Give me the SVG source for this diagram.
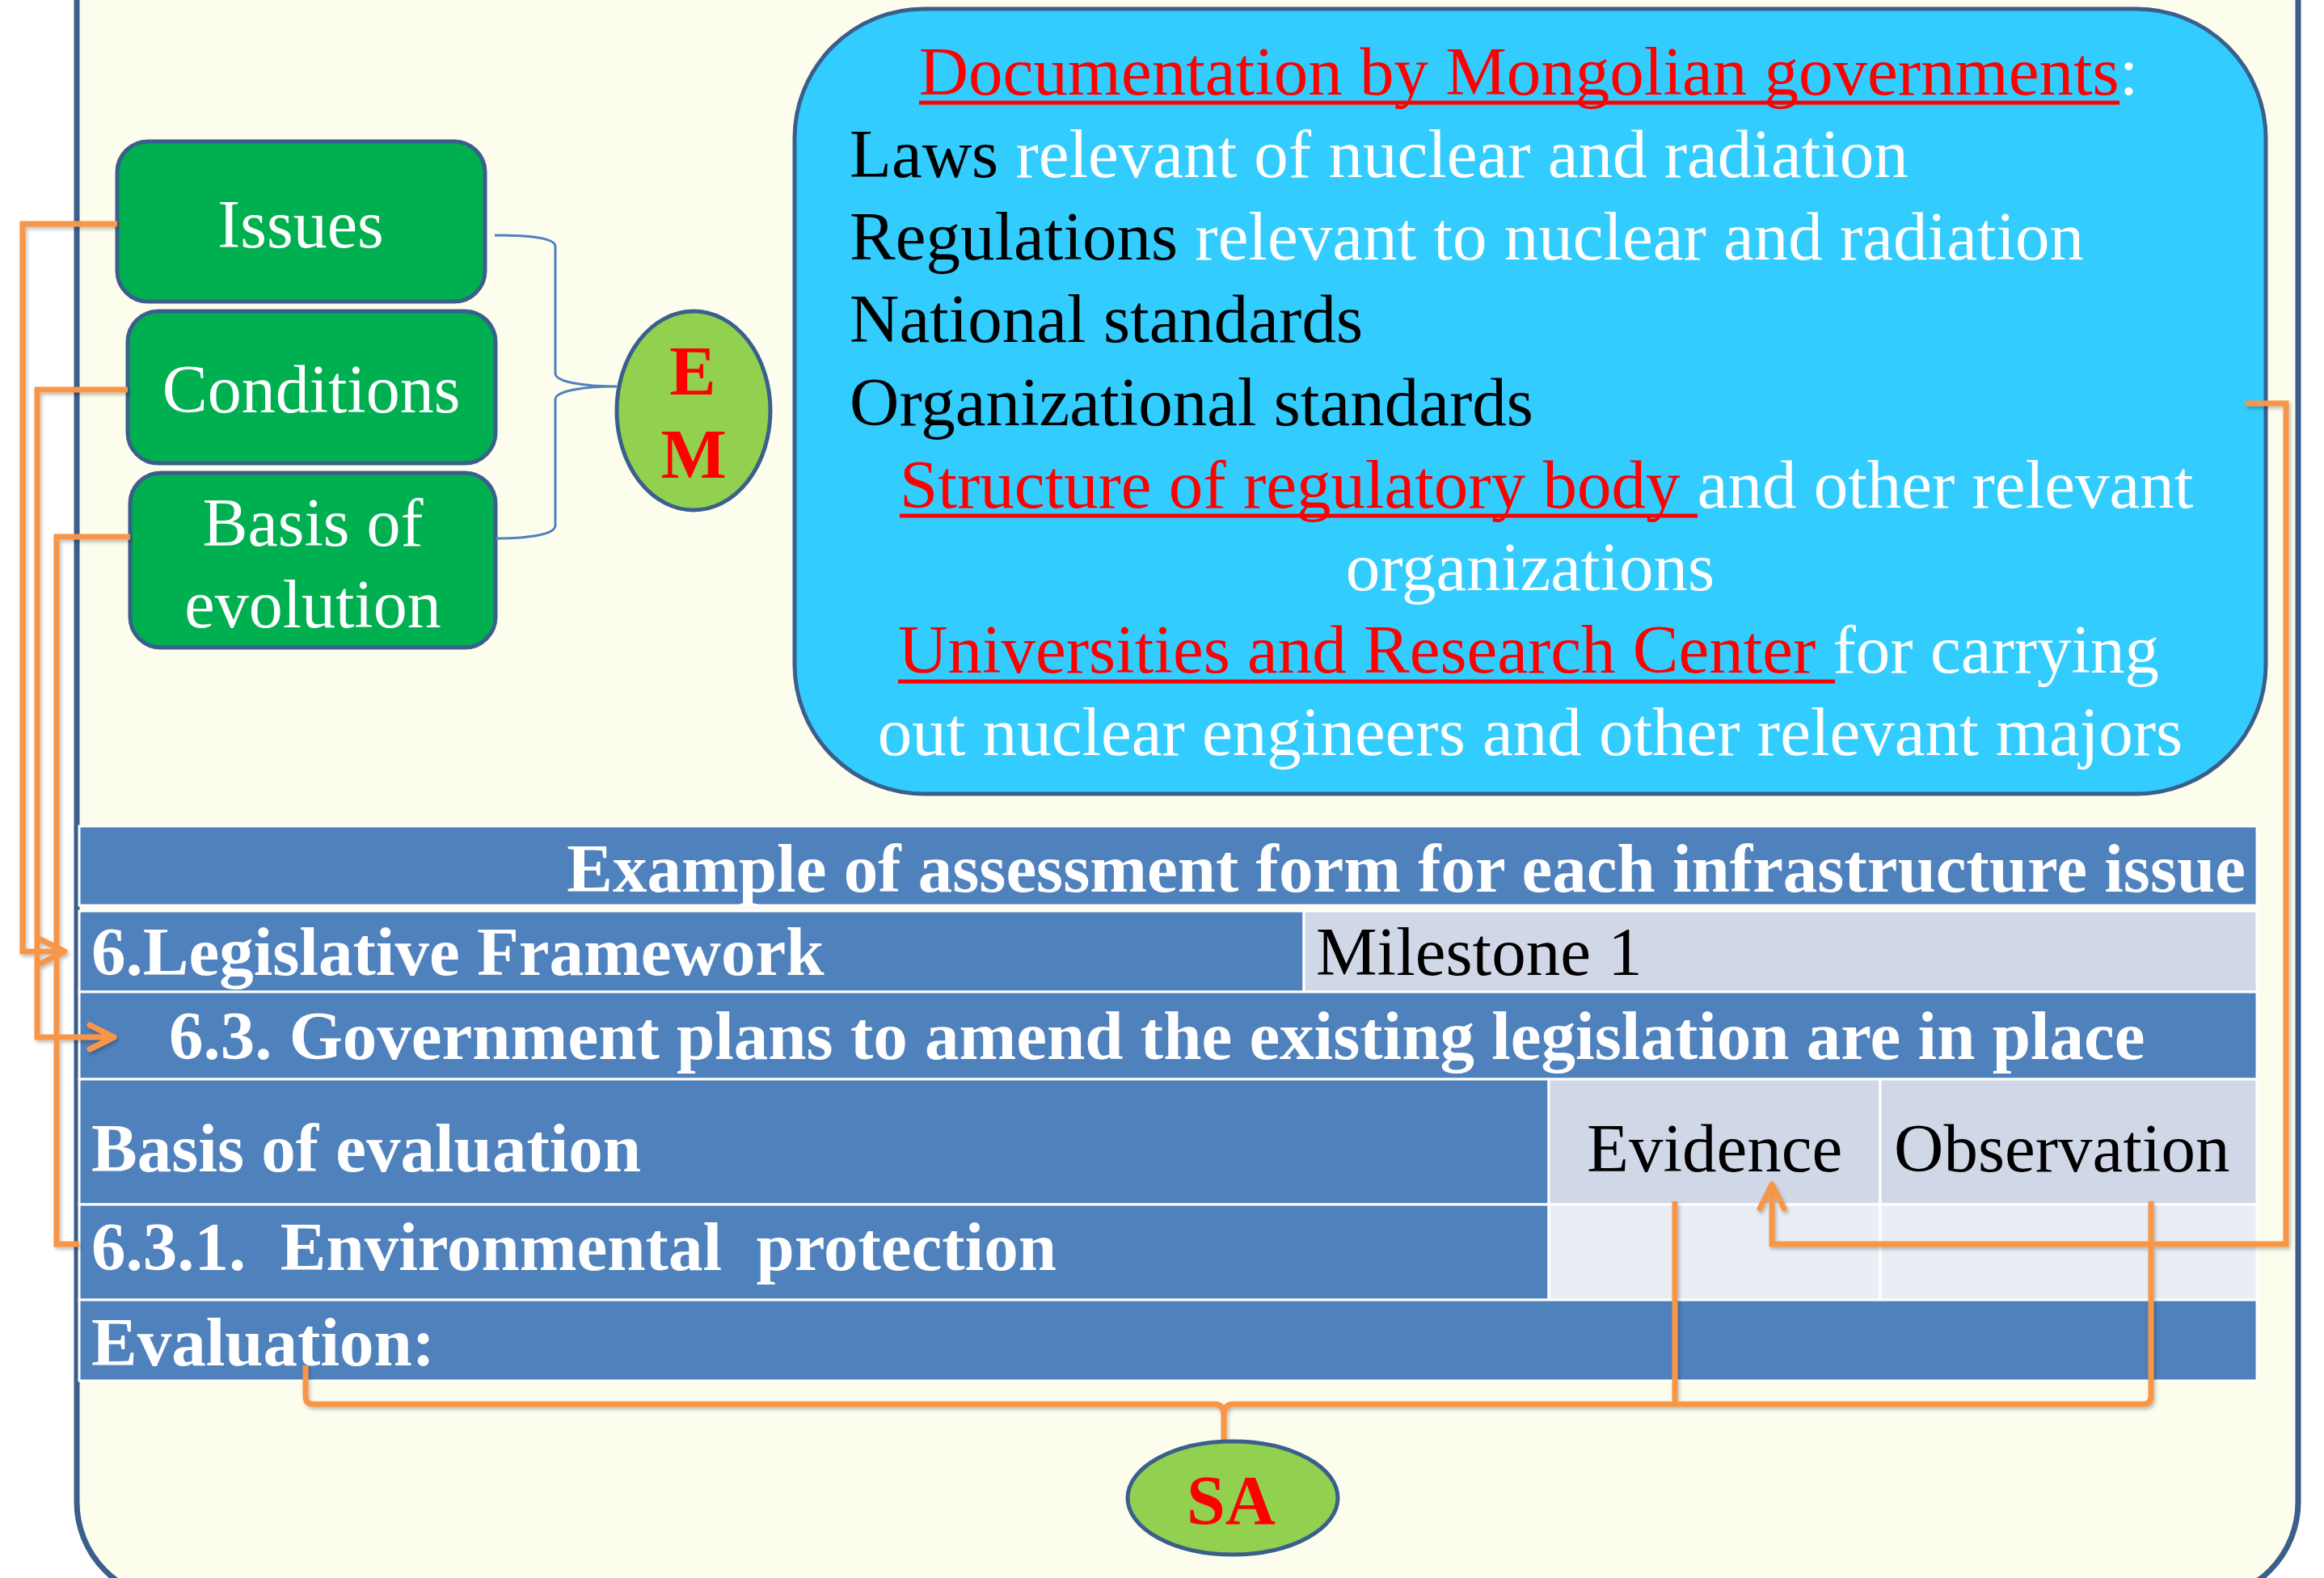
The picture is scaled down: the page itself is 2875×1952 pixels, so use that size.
<svg xmlns="http://www.w3.org/2000/svg" width="2875" height="1952" viewBox="0 0 2875 1952">
<style>
text{font-family:"Liberation Serif","Times New Roman",serif;}
.frame{fill:#fdfdee;stroke:#3a5f8b;stroke-width:7;}
.gbox{fill:#00b050;stroke:#3a5f8b;stroke-width:5;}
.gtxt{fill:#ffffff;font-size:84px;text-anchor:middle;}
.oval{fill:#92d050;stroke:#3a5f8b;stroke-width:5;}
.ovtxt{fill:#ff0000;font-size:86px;font-weight:bold;text-anchor:middle;}
.doc{fill:#33ccff;stroke:#3a5f8b;stroke-width:5;}
.dtxt{font-size:85px;fill:#000000;}
.w{fill:#ffffff;}
.r{fill:#ff0000;}
.ul{stroke:#ff0000;stroke-width:5;}
.cb{fill:#4f81bd;stroke:#ffffff;stroke-width:3;}
.cl{fill:#d0d8e8;stroke:#ffffff;stroke-width:3;}
.cx{fill:#e9edf4;stroke:#ffffff;stroke-width:3;}
.tb{fill:#ffffff;font-size:85px;font-weight:bold;}
.tr{fill:#000000;font-size:85px;}
.oc{fill:none;stroke:#f79646;stroke-width:7;stroke-linejoin:miter;}
.brace{fill:none;stroke:#4f81bd;stroke-width:3;}
</style>
<defs>
<marker id="arr" markerUnits="userSpaceOnUse" viewBox="-40 -24 48 48" refX="0" refY="0" markerWidth="48" markerHeight="48" orient="auto" overflow="visible">
<path d="M-30,-15 L0,0 L-30,15" fill="none" stroke="#f79646" stroke-width="7" stroke-linecap="round" stroke-linejoin="round"/>
</marker>
<filter id="sh" x="-5%" y="-5%" width="110%" height="110%">
<feDropShadow dx="2" dy="3" stdDeviation="2" flood-color="#000000" flood-opacity="0.25"/>
</filter>
</defs>
<rect x="0" y="0" width="2875" height="1952" fill="#ffffff"/>
<g id="frame">
<rect class="frame" x="95" y="-300" width="2748" height="2278" rx="120" ry="120"/>
</g>
<g id="doc-box">
<rect class="doc" x="983" y="11" width="1820" height="971" rx="160" ry="160"/>
<text class="dtxt" x="1891" y="117" text-anchor="middle"><tspan class="r">Documentation by Mongolian governments</tspan><tspan class="w">:</tspan></text>
<line class="ul" x1="1137" y1="127" x2="2622" y2="127"/>
<text class="dtxt" x="1051" y="219">Laws<tspan class="w"> relevant of nuclear and radiation</tspan></text>
<text class="dtxt" x="1051" y="321">Regulations<tspan class="w"> relevant to nuclear and radiation</tspan></text>
<text class="dtxt" x="1051" y="423">National standards</text>
<text class="dtxt" x="1051" y="526">Organizational standards</text>
<text class="dtxt" x="1113" y="628"><tspan class="r">Structure of regulatory body </tspan><tspan class="w">and other relevant</tspan></text>
<line class="ul" x1="1113" y1="638" x2="2100" y2="638"/>
<text class="dtxt w" x="1893" y="730" text-anchor="middle">organizations</text>
<text class="dtxt" x="1111" y="832"><tspan class="r">Universities and Research Center </tspan><tspan class="w">for carrying</tspan></text>
<line class="ul" x1="1111" y1="843" x2="2270" y2="843"/>
<text class="dtxt w" x="1893" y="934" text-anchor="middle">out nuclear engineers and other relevant majors</text>
</g>
<g id="node-issues">
<rect class="gbox" x="145" y="175" width="455" height="198" rx="38" ry="38"/>
<text class="gtxt" x="372" y="306">Issues</text>
</g>
<g id="node-conditions">
<rect class="gbox" x="158" y="385" width="455" height="188" rx="38" ry="38"/>
<text class="gtxt" x="385" y="510">Conditions</text>
</g>
<g id="node-basis">
<rect class="gbox" x="161" y="585" width="452" height="216" rx="38" ry="38"/>
<text class="gtxt" x="387" y="675">Basis of</text>
<text class="gtxt" x="387" y="776">evolution</text>
</g>
<g id="node-em">
<ellipse class="oval" cx="858" cy="508" rx="95" ry="123"/>
<text class="ovtxt" x="857" y="488">E</text>
<text class="ovtxt" x="858" y="591">M</text>
</g>
<g id="table">
<rect class="cb" x="98" y="1022" width="2694" height="98"/>
<rect class="cb" x="98" y="1127" width="1515" height="100"/>
<rect class="cl" x="1613" y="1127" width="1179" height="100"/>
<rect class="cb" x="98" y="1227" width="2694" height="108"/>
<rect class="cb" x="98" y="1335" width="1818" height="155"/>
<rect class="cl" x="1916" y="1335" width="410" height="155"/>
<rect class="cl" x="2326" y="1335" width="466" height="155"/>
<rect class="cb" x="98" y="1490" width="1818" height="118"/>
<rect class="cx" x="1916" y="1490" width="410" height="118"/>
<rect class="cx" x="2326" y="1490" width="466" height="118"/>
<rect class="cb" x="98" y="1608" width="2694" height="100"/>
<text class="tb" x="2778" y="1103" text-anchor="end">Example of assessment form for each infrastructure issue</text>
<text class="tb" x="113" y="1206">6.Legislative Framework</text>
<text class="tr" x="1628" y="1206">Milestone 1</text>
<text class="tb" x="209" y="1310">6.3. Government plans to amend the existing legislation are in place</text>
<text class="tb" x="113" y="1449">Basis of evaluation</text>
<text class="tr" x="1963" y="1449">Evidence</text>
<text class="tr" x="2343" y="1449">Observation</text>
<text class="tb" x="113" y="1571" xml:space="preserve">6.3.1.  Environmental  protection</text>
<text class="tb" x="113" y="1689">Evaluation:</text>
</g>
<g id="connectors">
<path class="brace" d="M612,291 C660,291 687,295 687,305 L687,462 C687,472 720,478 763,478 C720,478 687,484 687,494 L687,650 C687,660 660,666 613,666"/>
<g filter="url(#sh)">
<path class="oc" d="M145,277 L28,277 L28,1177 L80,1177" marker-end="url(#arr)"/>
<path class="oc" d="M158,482 L46,482 L46,1283 L141,1283" marker-end="url(#arr)"/>
<path class="oc" d="M161,664 L70,664 L70,1539 L98,1539"/>
<path class="oc" d="M2778,499 L2828,499 L2828,1539 L2192,1539 L2192,1465" marker-end="url(#arr)"/>
<path class="oc" d="M378,1689 L378,1727 Q378,1737 388,1737 L1502,1737 Q1514,1737 1514,1750 L1514,1785"/>
<path class="oc" d="M1514,1750 Q1514,1737 1526,1737 L2651,1737 Q2661,1737 2661,1727 L2661,1486"/>
<path class="oc" d="M2072,1486 L2072,1737"/>
</g>
</g>
<g id="node-sa">
<ellipse class="oval" cx="1525" cy="1853" rx="130" ry="70"/>
<text class="ovtxt" x="1523" y="1885">SA</text>
</g>
</svg>
